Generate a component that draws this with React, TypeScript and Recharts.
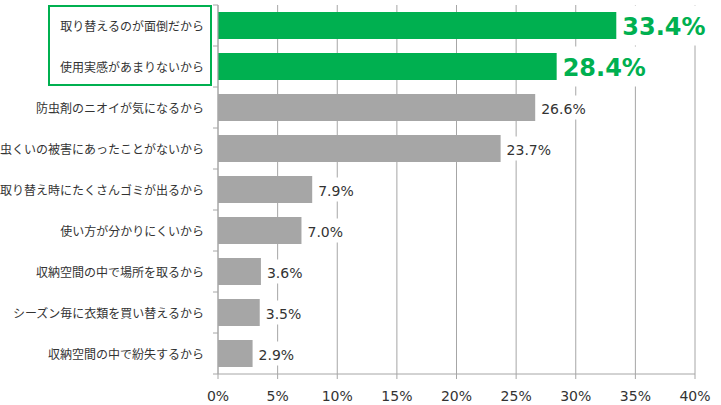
import React from "react";
import { BarChart, Bar, XAxis, YAxis, CartesianGrid, Cell, LabelList } from "recharts";

const categories = [
  "取り替えるのが面倒だから",
  "使用実感があまりないから",
  "防虫剤のニオイが気になるから",
  "虫くいの被害にあったことがないから",
  "取り替え時にたくさんゴミが出るから",
  "使い方が分かりにくいから",
  "収納空間の中で場所を取るから",
  "シーズン毎に衣類を買い替えるから",
  "収納空間の中で紛失するから",
];
const values = [33.4, 28.4, 26.6, 23.7, 7.9, 7.0, 3.6, 3.5, 2.9];
const highlightCount = 2;
const xTicks = [0, 5, 10, 15, 20, 25, 30, 35, 40];

const GREEN = "#00b050";
const GRAY = "#a6a6a6";
const GRID = "#a6a6a6";
const TEXT = "#333333";
const NUM_FONT = "'DejaVu Sans', Verdana, sans-serif";
const JP_FONT = "'Noto Sans CJK JP', sans-serif";

const data = categories.map((name, i) => ({ name, value: values[i], hi: i < highlightCount }));

function CategoryTick(props: any) {
  const { x, y, payload, index } = props;
  const half = 20.5;
  return (
    <g>
      <text x={x} y={y} textAnchor="end" dominantBaseline="central" fontSize={12} fill={TEXT} fontFamily={JP_FONT}>
        {payload.value}
      </text>
      {index === 0 && <line x1={x + 9} x2={x + 14} y1={y - half} y2={y - half} stroke={GRID} />}
      <line x1={x + 9} x2={x + 14} y1={y + half} y2={y + half} stroke={GRID} />
    </g>
  );
}

function ValueLabel(props: any) {
  const { x, y, width, height, value, index } = props;
  const hi = index < highlightCount;
  const text = `${Number(value).toFixed(1)}%`;
  const cy = y + height / 2;
  const lx = x + width + 6;
  if (hi) {
    return (
      <g>
        <rect x={lx - 3} y={cy - 20} width={92} height={40} fill="#fff" />
        <text x={lx} y={cy + 1} dominantBaseline="central" fontSize={24} fontWeight="bold" fill={GREEN} fontFamily={NUM_FONT}>
          {text}
        </text>
      </g>
    );
  }
  const w = text.length * 9;
  return (
    <g>
      <rect x={lx - 2} y={cy - 12} width={w + 4} height={24} fill="#fff" />
      <text x={lx} y={cy + 1} dominantBaseline="central" fontSize={14} fill={TEXT} fontFamily={NUM_FONT}>
        {text}
      </text>
    </g>
  );
}

export default function App() {
  return (
    <div style={{ position: "absolute", left: 0, top: 0, width: 721, height: 405, background: "#fff" }}>
      <BarChart
        width={721}
        height={405}
        data={data}
        layout="vertical"
        margin={{ top: 5, right: 26, bottom: 0, left: 0 }}
        barSize={27}
      >
        <CartesianGrid horizontal={false} stroke={GRID} />
        <XAxis
          type="number"
          domain={[0, 40]}
          ticks={xTicks}
          tickFormatter={(v) => `${v}%`}
          height={31}
          axisLine={{ stroke: GRID }}
          tickLine={{ stroke: GRID }}
          tickSize={5}
          tickMargin={12}
          tick={{ fontSize: 14, fill: TEXT, fontFamily: NUM_FONT }}
          interval={0}
        />
        <YAxis
          type="category"
          dataKey="name"
          width={218}
          axisLine={{ stroke: GRID }}
          tickLine={false}
          tickSize={0}
          tickMargin={14}
          interval={0}
          tick={<CategoryTick />}
        />
        <Bar dataKey="value" isAnimationActive={false}>
          {data.map((d, i) => (
            <Cell key={i} fill={d.hi ? GREEN : GRAY} />
          ))}
          <LabelList dataKey="value" content={<ValueLabel />} />
        </Bar>
      </BarChart>
      <div
        style={{
          position: "absolute",
          left: 48,
          top: 5,
          width: 160,
          height: 77,
          border: `2px solid ${GREEN}`,
          pointerEvents: "none",
        }}
      />
    </div>
  );
}
